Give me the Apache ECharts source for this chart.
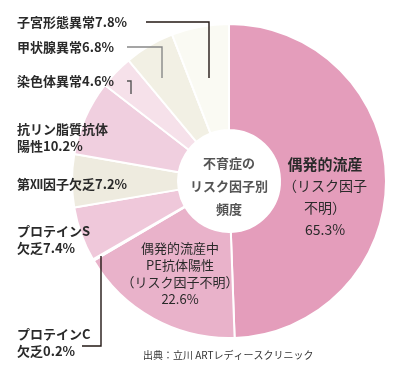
<!DOCTYPE html>
<html><head><meta charset="utf-8">
<script src="https://cdn.jsdelivr.net/npm/echarts@6/dist/echarts.min.js"></script>
<style>html,body{margin:0;padding:0;background:#fff}#c{width:393px;height:373px}</style>
</head><body><div id="c"></div>
<script>
const categories = ['偶発的流産（リスク因子不明）','偶発的流産中PE抗体陽性（リスク因子不明）','プロテインC欠乏','プロテインS欠乏','第Ⅻ因子欠乏','抗リン脂質抗体陽性','染色体異常','甲状腺異常','子宮形態異常'];
const values = [65.3, 22.6, 0.2, 7.4, 7.2, 10.2, 4.6, 6.8, 7.8];
const labelTexts = [
  '{b|偶発的流産}\n{n|（リスク因子}\n{n|不明）}\n{n|65.3%}',
  '偶発的流産中\nPE抗体陽性\n（リスク因子不明）\n22.6%',
  'プロテインC\n欠乏0.2%',
  'プロテインS\n欠乏7.4%',
  '第Ⅻ因子欠乏7.2%',
  '抗リン脂質抗体\n陽性10.2%',
  '染色体異常4.6%',
  '甲状腺異常6.8%',
  '子宮形態異常7.8%'
];
const centerText = '不育症の\nリスク因子別\n頻度';
const sourceText = '出典：立川 ARTレディースクリニック';

// layout (positions/styles)
const colors = ['#e49dbb','#e9b2ca','#f3d6e3','#efc8da','#eeebdf','#f0cfdf','#f6e1ea','#f2f0e4','#fafaf3'];
const labelPos = [[325,197,'center'],[180,274,'center'],[17,343,'left'],[17,240,'left'],[17,184,'left'],[17,138,'left'],[17,81,'left'],[17,47,'left'],[17,22,'left']];
const leaderLines = [
  {pts:[[82,346],[101,346],[101,256]], color:'#231815'},
  {pts:[[127,81],[131,81],[131,94]], color:'#555'},
  {pts:[[127,47],[162,47],[162,78]], color:'#888'},
  {pts:[[146,22],[209,22],[209,78]], color:'#231815'}
];

const FONT = '"Noto Sans CJK JP","Noto Sans",sans-serif';
const data = values.map((v,i)=>{
  const inner = i < 2;
  return {
    name: categories[i], value: v,
    itemStyle:{color: colors[i]},
    label:{
      show:true,
      position: inner ? 'inside' : 'outside',
      formatter: labelTexts[i],
      fontFamily: FONT,
      fontWeight: inner ? 'normal' : 'bold',
      fontSize: i===0 ? 14 : 13,
      lineHeight: i===0 ? 22 : 17,
      color:'#2a2a2a',
      align: labelPos[i][2],
      rich: {
        b:{fontFamily:FONT,fontSize:15,fontWeight:'bold',lineHeight:22,color:'#2a2a2a'},
        n:{fontFamily:FONT,fontSize:14,lineHeight:22,color:'#2a2a2a'}
      }
    },
    labelLine:{show:false}
  };
});

const graphics = leaderLines.map(l=>({
  type:'polyline', z:100, silent:true,
  shape:{points:l.pts},
  style:{stroke:l.color, lineWidth:1.4, fill:null}
}));
graphics.push({type:'text', z:100, x:229, y:186, style:{text:centerText, align:'center', verticalAlign:'middle', font:'bold 13px '+FONT, lineHeight:23, fill:'#555'}});
graphics.push({type:'text', z:100, x:143, y:355, style:{text:sourceText, verticalAlign:'middle', font:'10px '+FONT, fill:'#333'}});

const chart = echarts.init(document.getElementById('c'), null, {renderer:'canvas'});
chart.setOption({
  animation:false,
  backgroundColor:'#fff',
  series:[{
    type:'pie',
    center:[229,181],
    radius:[51,157],
    startAngle:90,
    clockwise:true,
    avoidLabelOverlap:false,
    silent:true,
    emphasis:{disabled:true},
    itemStyle:{borderColor:'#fff',borderWidth:2},
    data: data,
    labelLayout: function(params){
      const p = labelPos[params.dataIndex];
      return {x:p[0], y:p[1], align:p[2], verticalAlign:'middle'};
    }
  }],
  graphic: graphics
});
</script></body></html>
